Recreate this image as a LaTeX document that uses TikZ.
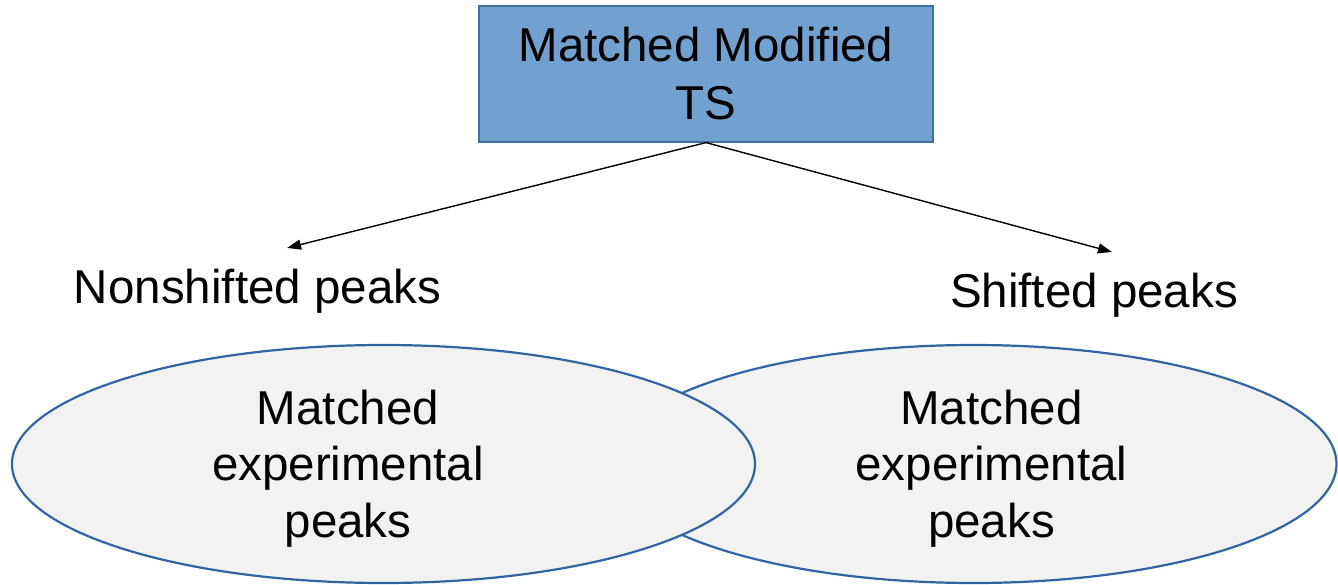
\documentclass[tikz,border=0pt]{standalone}
\usepackage{fontspec}
\setmainfont{Liberation Sans}
\usetikzlibrary{arrows.meta,shapes.geometric}
\definecolor{boxfill}{RGB}{114,160,207}
\definecolor{boxline}{RGB}{65,113,156}
\definecolor{ellfill}{RGB}{242,242,242}
\definecolor{ellline}{RGB}{50,100,165}
\tikzset{
  topbox/.style={draw=boxline, fill=boxfill, line width=1.2pt, minimum width=454pt, minimum height=136pt, inner sep=0pt, align=center, font=\fontsize{47.5}{58}\selectfont},
  ellbox/.style={ellipse, draw=ellline, fill=ellfill, line width=2.2pt, inner sep=0pt},
  lbl/.style={align=center, inner sep=0pt, font=\fontsize{47.5}{56.5}\selectfont},
  conn/.style={line width=1.4pt, -{Triangle[length=14pt,width=10pt]}}
}
\begin{document}
\begin{tikzpicture}[x=1pt,y=-1pt]
\useasboundingbox (0,0) rectangle (1338,585);
\node[topbox] (top) at (706,74) {Matched Modified\\TS};
\coordinate (tipL) at (287,248);
\coordinate (tipR) at (1112,252);
\draw[conn] (top.south) -- (tipL);
\draw[conn] (top.south) -- (tipR);
\node[lbl, anchor=base] (nonshift) at (257.5,303) {Nonshifted peaks};
\node[lbl, anchor=base] (shift) at (1094,308) {Shifted peaks};
\node[ellbox, minimum width=726pt, minimum height=238pt] (ellR) at (973.5,464) {};
\node[ellbox, minimum width=743pt, minimum height=238pt] (ellL) at (383.5,464) {};
\node[lbl] (txtL) at (348,468.4) {Matched\\experimental\\peaks};
\node[lbl] (txtR) at (991.5,468.4) {Matched\\experimental\\peaks};
\end{tikzpicture}
\end{document}
